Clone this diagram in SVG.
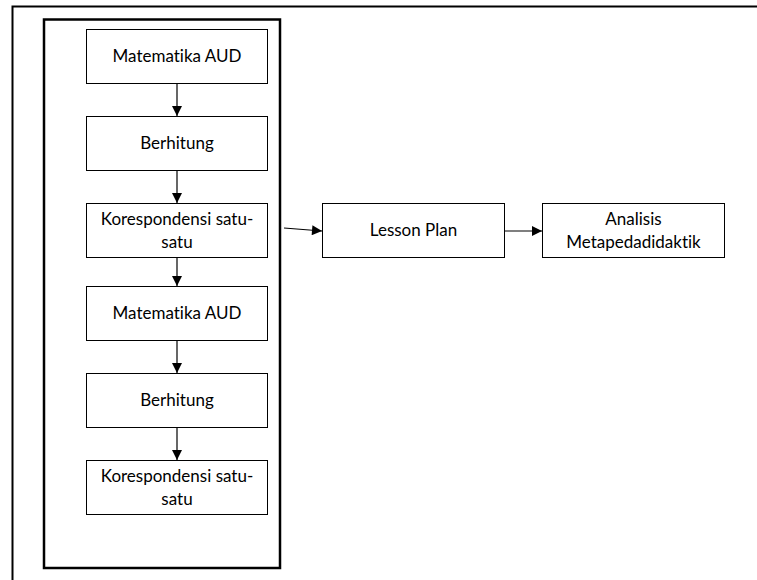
<svg xmlns="http://www.w3.org/2000/svg" width="757" height="580" viewBox="0 0 757 580">
<style>
.frame{fill:none;stroke:#000;stroke-width:2}
.inner{fill:none;stroke:#000;stroke-width:2.5}
.box{fill:#fff;stroke:#000;stroke-width:1}
.t{font-family:Lato,"Liberation Sans",sans-serif;font-size:17px;fill:#000;text-anchor:middle;font-variant-ligatures:none}
.c{stroke:#000;stroke-width:1.2;fill:none;marker-end:url(#ah)}
</style>
<defs>
<marker id="ah" viewBox="0 0 10 10" refX="10" refY="5" markerWidth="11" markerHeight="10" markerUnits="userSpaceOnUse" orient="auto">
<path d="M0,0 L10,5 L0,10 z" fill="#000"/>
</marker>
</defs>
<rect width="757" height="580" fill="#fff"/>
<path class="frame" d="M12.5,581 V6.5 H758"/>
<rect class="inner" x="44" y="19.5" width="236" height="548.5"/>
<g id="connectors">
<line class="c" x1="177" y1="83" x2="177" y2="116"/>
<line class="c" x1="177" y1="171" x2="177" y2="203"/>
<line class="c" x1="177" y1="258" x2="177" y2="286"/>
<line class="c" x1="177" y1="340" x2="177" y2="373"/>
<line class="c" x1="177" y1="427" x2="177" y2="460"/>
<line class="c" x1="284" y1="228" x2="322" y2="231"/>
<line class="c" x1="505" y1="231" x2="542" y2="231"/>
</g>
<g id="n1"><rect class="box" x="86.5" y="29.5" width="181" height="54"/><text class="t" x="177" y="62">Matematika AUD</text></g>
<g id="n2"><rect class="box" x="86.5" y="116.5" width="181" height="54"/><text class="t" x="177" y="149">Berhitung</text></g>
<g id="n3"><rect class="box" x="86.5" y="203.5" width="181" height="54"/><text class="t" x="177" y="225">Korespondensi satu-</text><text class="t" x="177" y="248">satu</text></g>
<g id="n4"><rect class="box" x="86.5" y="286.5" width="181" height="54"/><text class="t" x="177" y="319">Matematika AUD</text></g>
<g id="n5"><rect class="box" x="86.5" y="373.5" width="181" height="54"/><text class="t" x="177" y="406">Berhitung</text></g>
<g id="n6"><rect class="box" x="86.5" y="460.5" width="181" height="54"/><text class="t" x="177" y="482">Korespondensi satu-</text><text class="t" x="177" y="505">satu</text></g>
<g id="n7"><rect class="box" x="322.5" y="203.5" width="182" height="54"/><text class="t" x="413.5" y="236">Lesson Plan</text></g>
<g id="n8"><rect class="box" x="542.5" y="203.5" width="182" height="54"/><text class="t" x="633.5" y="225">Analisis</text><text class="t" x="633.5" y="248">Metapedadidaktik</text></g>
</svg>
